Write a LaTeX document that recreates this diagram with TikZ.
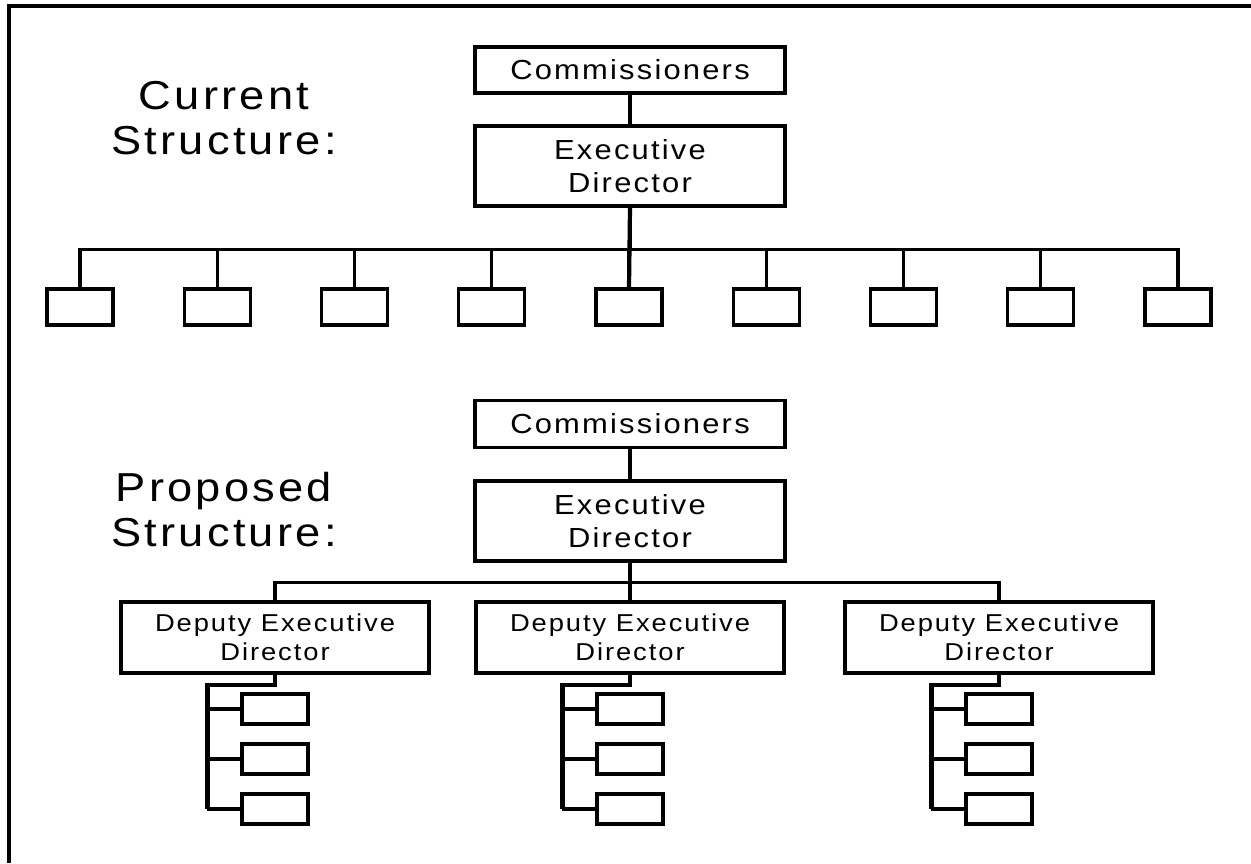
\documentclass[tikz,border=0pt]{standalone}
\usepackage{fontspec}
\setmainfont[FakeStretch=1.12,LetterSpace=8]{Liberation Sans}
\usetikzlibrary{calc}
\tikzset{
	box/.style={draw, rectangle, inner sep=0pt, minimum width=155pt, align=center, font=\fontsize{13.8}{16.5}\selectfont},
	depbox/.style={draw, rectangle, inner sep=0pt, minimum width=154pt, minimum height=35.5pt, align=center, font=\fontsize{12.2}{14.5}\selectfont},
	smallbox/.style={draw, rectangle, inner sep=0pt, minimum width=33pt, minimum height=18pt},
	subbox/.style={draw, rectangle, inner sep=0pt, minimum width=33pt, minimum height=15pt},
	title/.style={align=center, font=\fontsize{20.2}{22.5}\selectfont},
	trunk/.style={line width=2.1pt}
}
\begin{document}
\begin{tikzpicture}[x=0.5pt,y=-0.5pt,line width=1.6pt]
	\useasboundingbox (0,0) rectangle (1251,863);
	\draw[line width=2pt] (1251,5.5) -- (8.5,5.5) -- (8.5,863);
	% current
	\node (curlbl) at (224,118)	[title]	{Current\\Structure:};
	\node (comm1) at (630,70)	[box, minimum height=23pt]	{Commissioners};
	\node (exec1) at (630,166)	[box, minimum height=40pt]	{Executive\\Director};
	\draw (comm1) -- (exec1);
	\foreach \i in {1,...,9} {
		\node (cur\i) at ({80+137.25*(\i-1)},307)	[smallbox]	{};
		\draw (exec1.south) -- ++(0,42) -| (cur\i.north);
	}
	\draw[trunk] (exec1.south) -- (cur5.north);
	% proposed
	\node (prolbl) at (224,510)	[title]	{Proposed\\Structure:};
	\node (comm2) at (630,424)	[box, minimum height=23.5pt]	{Commissioners};
	\node (exec2) at (630,521)	[box, minimum height=40pt]	{Executive\\Director};
	\draw (comm2) -- (exec2);
	\foreach \d/\x in {1/275,2/630,3/999} {
		\node (dep\d) at (\x,637.5)	[depbox]	{Deputy Executive\\Director};
		\draw (exec2.south) -- ++(0,20) -| (dep\d.north);
		\foreach \j/\y in {1/709,2/759,3/809} {
			\node (sub\d\j) at (\x,\y)	[subbox]	{};
			\draw ($(sub\d\j.west)+(-33,0)$) -- (sub\d\j.west);
		}
		\draw[trunk] (dep\d.south) -- ++(0,10) -| ($(sub\d3.west)+(-33,0)$);
	}
\end{tikzpicture}
\end{document}
